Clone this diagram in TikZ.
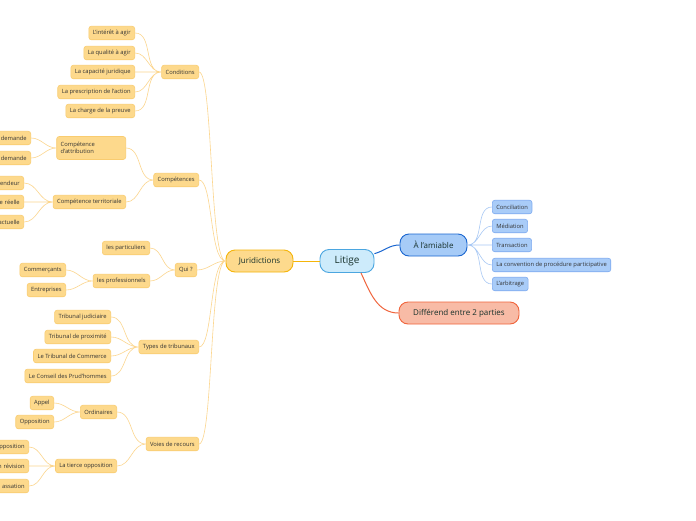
\documentclass[tikz,border=0pt]{standalone}
\usepackage{fontspec}
\setmainfont{Open Sans}
\usepackage{xcolor}
\usepackage{tikz}
\usetikzlibrary{arrows.meta,positioning}

\definecolor{leaffill}{HTML}{FDD98C}
\definecolor{leafline}{HTML}{F9CC70}
\definecolor{twigline}{HTML}{FCD68E}
\definecolor{jurfill}{HTML}{FDDA8D}
\definecolor{jurline}{HTML}{F5B50A}
\definecolor{litfill}{HTML}{CDEBFB}
\definecolor{litline}{HTML}{4BA6E0}
\definecolor{amifill}{HTML}{A6CBF7}
\definecolor{amiline}{HTML}{1A66D0}
\definecolor{bleaffill}{HTML}{A9CCF8}
\definecolor{bleafline}{HTML}{7DAAF0}
\definecolor{btwigline}{HTML}{A9C9F5}
\definecolor{difffill}{HTML}{F8BBA6}
\definecolor{diffline}{HTML}{F0643C}
\definecolor{maintext}{HTML}{16302A}
\definecolor{leaftext}{HTML}{333333}

\begin{document}
\begin{tikzpicture}[
  x=1pt, y=1pt,
  leaf/.style={draw=leafline, fill=leaffill, rounded corners=2.5pt,
    line width=0.6pt, font=\fontsize{5.8}{6.8}\selectfont, text=leaftext,
    inner xsep=4pt, inner ysep=1pt, minimum height=13.5pt, anchor=east},
  cutleaf/.style={leaf, text width=52pt, align=right},
  bleaf/.style={leaf, draw=bleafline, fill=bleaffill, anchor=west},
  topic/.style={draw, rounded corners=9pt, line width=0.9pt,
    font=\fontsize{8}{9.5}\selectfont, text=maintext,
    minimum height=22pt, inner xsep=4pt},
  twig/.style={draw=twigline, line width=0.6pt},
  btwig/.style={draw=btwigline, line width=0.6pt}
]
\clip (0,0) rectangle (696,-520);
\fill[white] (0,0) rectangle (696,-520);

\node[topic, draw=litline, fill=litfill, minimum width=54pt,
  minimum height=23pt, font=\fontsize{10}{12}\selectfont] (litige) at (347,-261) {Litige};
\node[topic, draw=jurline, fill=jurfill, minimum width=67pt] (jur) at (259.5,-261) {Juridictions};
\node[topic, draw=amiline, fill=amifill, minimum width=67pt] (amiable) at (433.5,-245) {À l'amiable};
\node[topic, draw=diffline, fill=difffill, minimum width=120pt] (differend) at (459,-313)
  {Différend entre 2 parties};

\node[bleaf] (conciliation) at (492,-207) {Conciliation};
\node[bleaf] (mediation) at (492,-226) {Médiation};
\node[bleaf] (transaction) at (492,-245) {Transaction};
\node[bleaf] (convention) at (492,-265) {La convention de procédure participative};
\node[bleaf] (arbitrage) at (492,-284) {L'arbitrage};

\node[leaf] (conditions) at (199,-72) {Conditions};
\node[leaf] (competences) at (199,-180) {Compétences};
\node[leaf] (qui) at (197,-270) {Qui ?};
\node[leaf] (types) at (199,-347) {Types de tribunaux};
\node[leaf] (voies) at (199,-444) {Voies de recours};

\node[leaf] (interet) at (135,-33) {L'intérêt à agir};
\node[leaf] (qualite) at (135,-53) {La qualité à agir};
\node[leaf] (capacite) at (135,-72) {La capacité juridique};
\node[leaf] (prescription) at (135,-92) {La prescription de l'action};
\node[leaf] (charge) at (135,-111) {La charge de la preuve};

\node[leaf, text width=61pt, align=left, minimum height=23pt] (attribution) at (126,-148)
  {Compétence\\d'attribution};
\node[leaf] (territoriale) at (126,-202) {Compétence territoriale};
\node[cutleaf] (demandeA) at (31,-138) {demande};
\node[cutleaf] (demandeB) at (31,-158) {demande};
\node[cutleaf] (defendeur) at (24,-183) {endeur};
\node[cutleaf] (reelle) at (24,-202) {e réelle};
\node[cutleaf] (contract) at (24,-222) {actuelle};

\node[leaf] (particuliers) at (150,-248) {les particuliers};
\node[leaf] (professionnels) at (150,-281) {les professionnels};
\node[leaf] (commercants) at (66,-270) {Commerçants};
\node[leaf] (entreprises) at (66,-290) {Entreprises};

\node[leaf] (judiciaire) at (111,-317) {Tribunal judiciaire};
\node[leaf] (proximite) at (111,-337) {Tribunal de proximité};
\node[leaf] (commerce) at (111,-356) {Le Tribunal de Commerce};
\node[leaf] (prudhommes) at (111,-376) {Le Conseil des Prud'hommes};

\node[leaf] (ordinaires) at (117,-412) {Ordinaires};
\node[leaf] (tierce) at (117,-466) {La tierce opposition};
\node[leaf] (appel) at (54,-403) {Appel};
\node[leaf] (opposition) at (54,-422) {Opposition};
\node[cutleaf] (tierceB) at (29,-447) {opposition};
\node[cutleaf] (revision) at (29,-466) {n révision};
\node[cutleaf] (cassation) at (29,-486) {assation};

\draw[draw=jurline, line width=1pt] (litige.west) -- (jur.east);
\draw[draw=amiline, line width=1pt] (litige.15) to[out=15,in=180] (amiable.west);
\draw[draw=diffline, line width=1pt] ([xshift=14pt]litige.south) to[out=-65,in=180] (differend.west);

\draw[btwig] (amiable.east) to[out=0,in=180] (conciliation.west)
  (amiable.east) to[out=0,in=180] (mediation.west)
  (amiable.east) -- (transaction.west)
  (amiable.east) to[out=0,in=180] (convention.west)
  (amiable.east) to[out=0,in=180] (arbitrage.west);

\draw[twig] (jur.west) to[out=180,in=0,out distance=16pt,in distance=14pt] (conditions.east)
  (jur.west) to[out=180,in=0,out distance=16pt,in distance=14pt] (competences.east)
  (jur.west) to[out=180,in=0] (qui.east)
  (jur.west) to[out=180,in=0,out distance=16pt,in distance=14pt] (types.east)
  (jur.west) to[out=180,in=0,out distance=16pt,in distance=14pt] (voies.east);

\draw[twig] (conditions.west) to[out=180,in=0] (interet.east)
  (conditions.west) to[out=180,in=0] (qualite.east)
  (conditions.west) -- (capacite.east)
  (conditions.west) to[out=180,in=0] (prescription.east)
  (conditions.west) to[out=180,in=0] (charge.east);

\draw[twig] (competences.west) to[out=180,in=0] (attribution.east)
  (competences.west) to[out=180,in=0] (territoriale.east);
\draw[twig] (attribution.west) to[out=180,in=0] (demandeA.east)
  (attribution.west) to[out=180,in=0] (demandeB.east);
\draw[twig] (territoriale.west) to[out=180,in=0] (defendeur.east)
  (territoriale.west) -- (reelle.east)
  (territoriale.west) to[out=180,in=0] (contract.east);

\draw[twig] (qui.west) to[out=180,in=0] (particuliers.east)
  (qui.west) to[out=180,in=0] (professionnels.east);
\draw[twig] (professionnels.west) to[out=180,in=0] (commercants.east)
  (professionnels.west) to[out=180,in=0] (entreprises.east);

\draw[twig] (types.west) to[out=180,in=0] (judiciaire.east)
  (types.west) to[out=180,in=0] (proximite.east)
  (types.west) to[out=180,in=0] (commerce.east)
  (types.west) to[out=180,in=0] (prudhommes.east);

\draw[twig] (voies.west) to[out=180,in=0] (ordinaires.east)
  (voies.west) to[out=180,in=0] (tierce.east);
\draw[twig] (ordinaires.west) to[out=180,in=0] (appel.east)
  (ordinaires.west) to[out=180,in=0] (opposition.east);
\draw[twig] (tierce.west) to[out=180,in=0] (tierceB.east)
  (tierce.west) -- (revision.east)
  (tierce.west) to[out=180,in=0] (cassation.east);
\end{tikzpicture}
\end{document}
